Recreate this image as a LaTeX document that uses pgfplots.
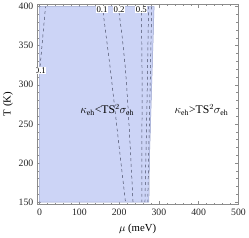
\documentclass[border=0pt]{standalone}
\usepackage{pgfplots}
\pgfplotsset{compat=1.18}
\usepackage{fontspec}
\setmainfont{Liberation Serif}
\definecolor{regfill}{RGB}{204,212,246}
\definecolor{regedge}{RGB}{150,160,205}
\definecolor{cont}{RGB}{70,75,100}
\definecolor{frame}{RGB}{140,140,140}
\begin{document}
\begin{tikzpicture}
\begin{axis}[
  scale only axis, width=206bp, height=205bp,
  xmin=-7, xmax=500, ymin=147, ymax=403.5,
  xtick={0,100,200,300,400,500}, ytick={150,200,250,300,350,400},
  minor x tick num=4, minor y tick num=4,
  tick align=inside, major tick length=4bp, minor tick length=2bp,
  every tick/.style={frame, line width=0.4pt},
  axis line style={frame, line width=0.5pt},
  /pgf/number format/assume math mode=true,
  ticklabel style={font=\fontsize{10}{11}\selectfont, text=black!85},
  xticklabel style={yshift=-1bp},
  xlabel={$\mu$ (meV)}, ylabel={T (K)},
  label style={font=\fontsize{11}{12}\selectfont},
  xlabel style={yshift=-2bp}, ylabel style={yshift=-1bp},
  clip=true,
]
\addplot[fill=regfill, draw=regedge, line width=0.5pt] coordinates {
 (0,150) (0,400) (288,400) (285,350) (282,300) (279,250) (276,200) (275,150)} -- cycle;
\addplot[cont, dashed, line width=0.5pt] coordinates {(0,316) (5,344) (10,372) (15,400)};
\addplot[cont, dashed, line width=0.5pt] coordinates {(158,400) (168,360) (178,320) (188,275) (198,230) (207,190) (216,150)};
\addplot[cont, dashed, line width=0.5pt] coordinates {(198,400) (208,360) (216,320) (222,275) (227,230) (231,190) (235,150)};
\addplot[cont, dashed, line width=0.5pt] coordinates {(256,400) (258,300) (257,200) (257,150)};
\addplot[cont, dashed, line width=0.5pt] coordinates {(274,400) (271,300) (267,200) (265,150)};
\addplot[cont, dashed, line width=0.5pt] coordinates {(282,400) (278,300) (274,200) (272,150)};
\node[fill=white, inner sep=0.6pt, font=\fontsize{9}{10}\selectfont] at (axis cs:2,318) {0.1};
\node[fill=white, inner sep=0.6pt, font=\fontsize{9}{10}\selectfont] at (axis cs:157,396) {0.1};
\node[fill=white, inner sep=0.6pt, font=\fontsize{9}{10}\selectfont] at (axis cs:200,396) {0.2};
\node[fill=white, inner sep=0.6pt, font=\fontsize{9}{10}\selectfont] at (axis cs:256,396) {0.5};
\node[font=\fontsize{12}{13}\selectfont] at (axis cs:170,268) {$\kappa_{\mathrm{eh}}$<TS$^2\sigma_{\mathrm{eh}}$};
\node[font=\fontsize{12}{13}\selectfont] at (axis cs:407,268) {$\kappa_{\mathrm{eh}}$>TS$^2\sigma_{\mathrm{eh}}$};
\end{axis}
\end{tikzpicture}
\end{document}
